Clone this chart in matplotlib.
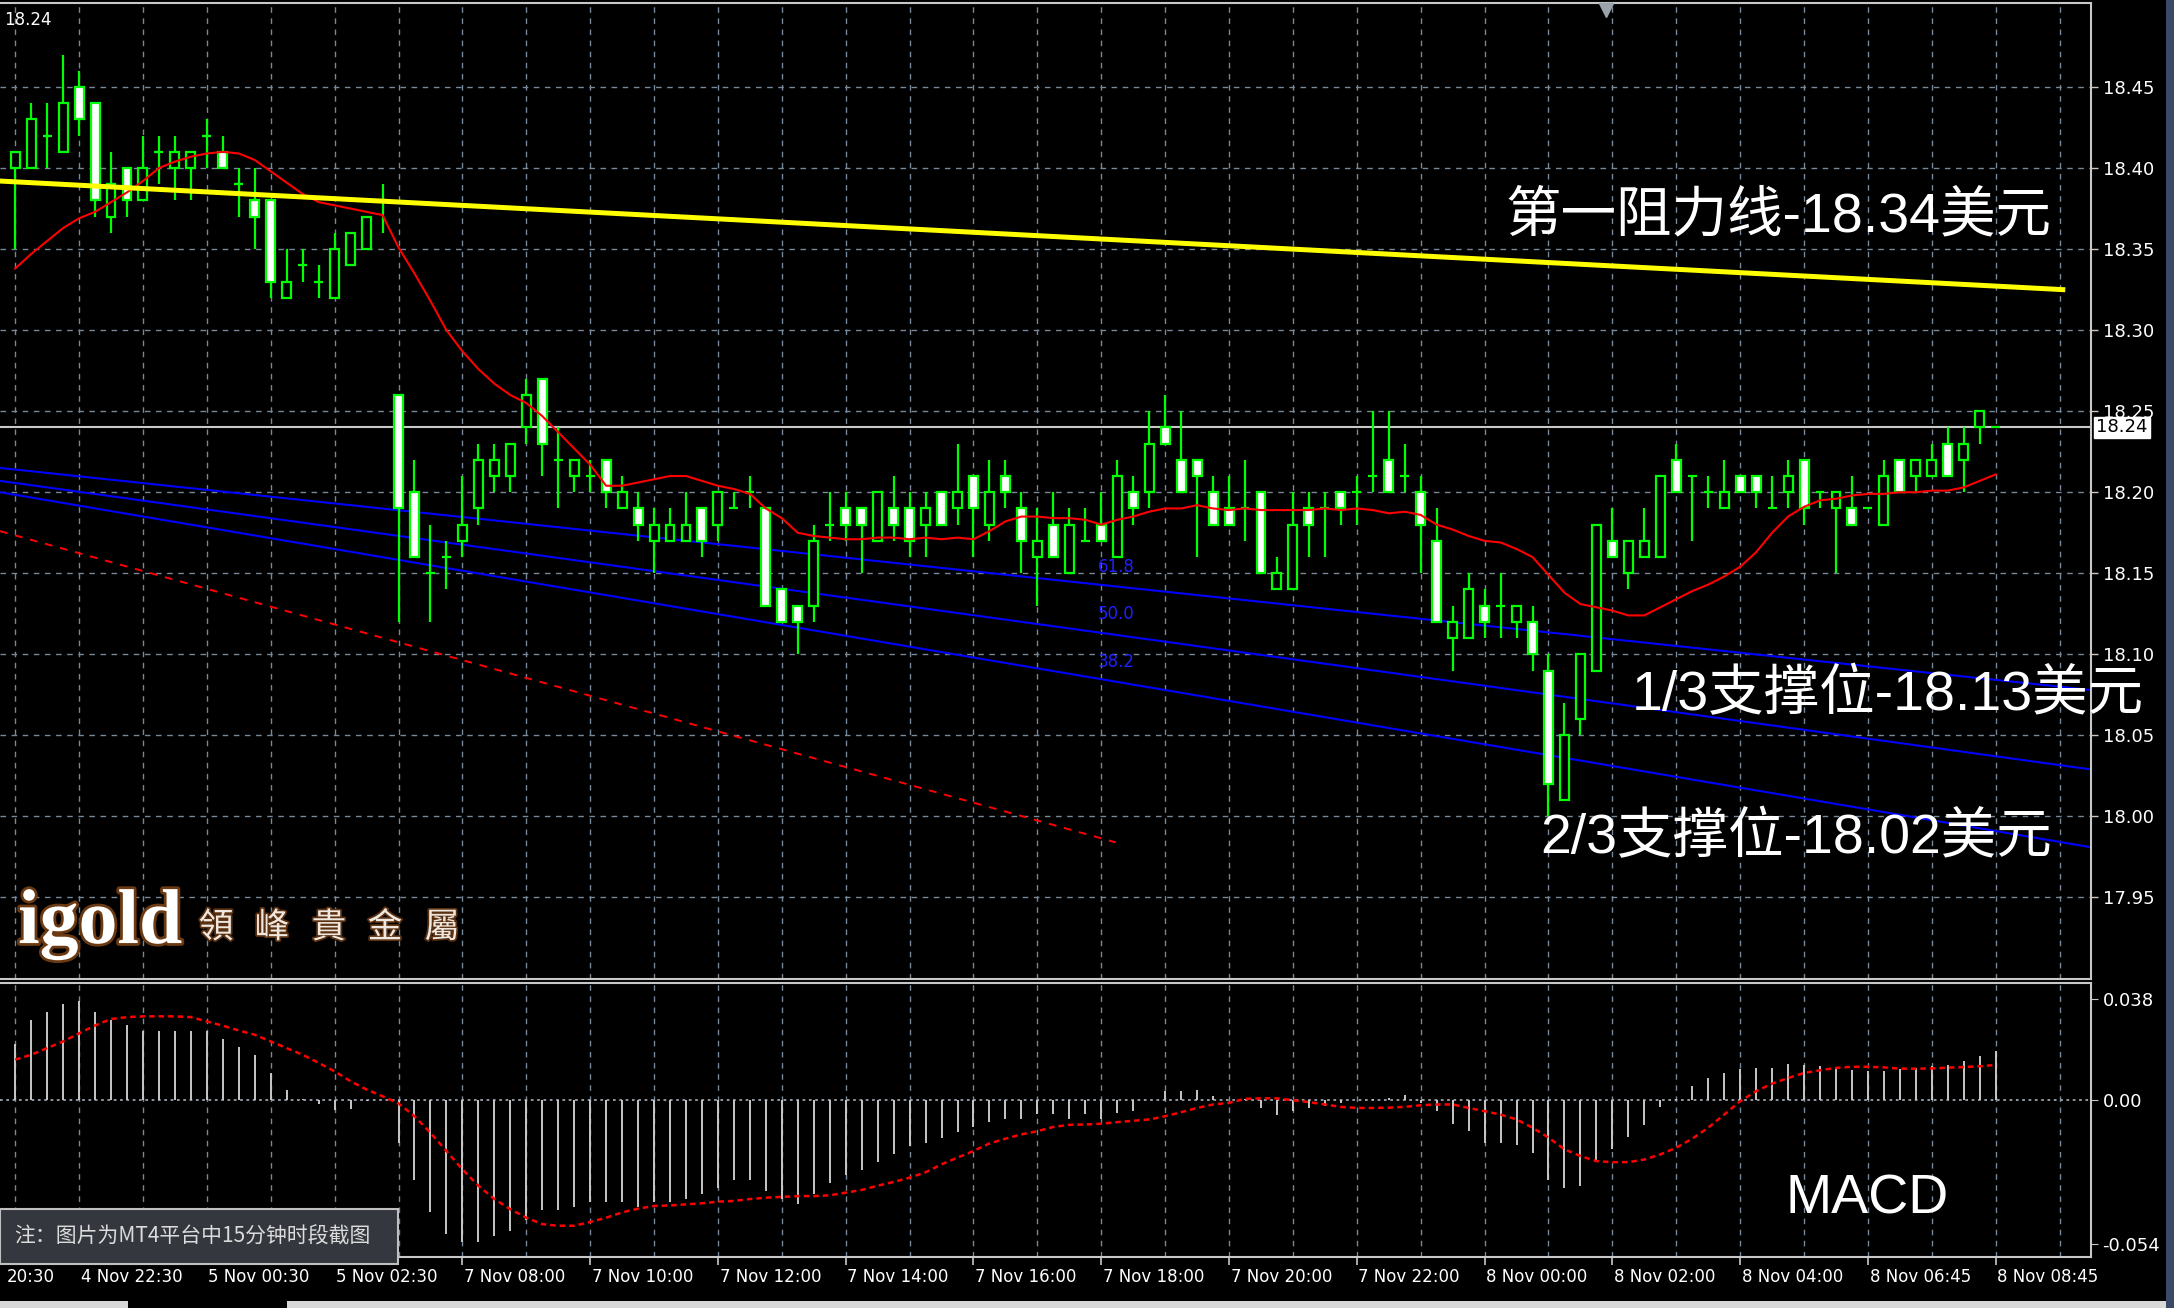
import matplotlib
matplotlib.use('Agg')
import matplotlib.pyplot as plt
import matplotlib.transforms as mtransforms
import matplotlib.patheffects as pe
from matplotlib.patches import Rectangle
import numpy as np

# ===== 15-min candles (index 0 = first visible bar) =====
opens = [18.40, 18.40, 18.42, 18.41, 18.45, 18.44, 18.37, 18.40, 18.38, 18.41,
         18.40, 18.40, 18.42, 18.41, 18.39, 18.38, 18.38, 18.32, 18.34, 18.33,
         18.32, 18.34, 18.35, 18.38, 18.26, 18.20, 18.15, 18.16, 18.17, 18.19,
         18.21, 18.21, 18.24, 18.27, 18.22, 18.21, 18.21, 18.22, 18.19, 18.19,
         18.17, 18.17, 18.17, 18.19, 18.18, 18.19, 18.20, 18.19, 18.14, 18.13,
         18.13, 18.18, 18.19, 18.19, 18.17, 18.19, 18.19, 18.18, 18.20, 18.19,
         18.21, 18.18, 18.21, 18.19, 18.16, 18.18, 18.15, 18.17, 18.18, 18.16,
         18.20, 18.20, 18.24, 18.22, 18.22, 18.20, 18.19, 18.19, 18.20, 18.14,
         18.14, 18.19, 18.19, 18.20, 18.20, 18.21, 18.22, 18.21, 18.20, 18.17,
         18.11, 18.11, 18.13, 18.13, 18.12, 18.12, 18.09, 18.01, 18.06, 18.09,
         18.17, 18.15, 18.16, 18.16, 18.22, 18.21, 18.20, 18.19, 18.21, 18.21,
         18.19, 18.20, 18.22, 18.20, 18.19, 18.19, 18.19, 18.18, 18.22, 18.21,
         18.21, 18.23, 18.22, 18.24, 18.24]
highs = [18.41, 18.44, 18.44, 18.47, 18.46, 18.44, 18.41, 18.40, 18.42, 18.42,
         18.42, 18.41, 18.43, 18.42, 18.40, 18.40, 18.38, 18.35, 18.35, 18.34,
         18.36, 18.36, 18.37, 18.39, 18.26, 18.22, 18.18, 18.17, 18.21, 18.23,
         18.23, 18.23, 18.27, 18.27, 18.24, 18.22, 18.22, 18.22, 18.21, 18.20,
         18.19, 18.19, 18.20, 18.19, 18.20, 18.20, 18.21, 18.19, 18.14, 18.13,
         18.18, 18.20, 18.20, 18.19, 18.20, 18.21, 18.20, 18.20, 18.20, 18.23,
         18.21, 18.22, 18.22, 18.20, 18.19, 18.20, 18.19, 18.19, 18.20, 18.22,
         18.21, 18.25, 18.26, 18.25, 18.22, 18.21, 18.21, 18.22, 18.20, 18.16,
         18.20, 18.20, 18.20, 18.20, 18.21, 18.25, 18.25, 18.23, 18.21, 18.19,
         18.13, 18.15, 18.14, 18.15, 18.13, 18.13, 18.10, 18.07, 18.10, 18.18,
         18.19, 18.17, 18.19, 18.21, 18.23, 18.21, 18.21, 18.22, 18.21, 18.21,
         18.21, 18.22, 18.22, 18.20, 18.20, 18.21, 18.19, 18.22, 18.22, 18.22,
         18.23, 18.24, 18.24, 18.25, 18.24]
lows = [18.35, 18.40, 18.40, 18.41, 18.42, 18.37, 18.36, 18.37, 18.38, 18.39,
        18.38, 18.38, 18.40, 18.40, 18.37, 18.35, 18.32, 18.32, 18.33, 18.32,
        18.32, 18.34, 18.35, 18.36, 18.12, 18.16, 18.12, 18.14, 18.16, 18.18,
        18.20, 18.20, 18.23, 18.21, 18.19, 18.20, 18.20, 18.19, 18.19, 18.17,
        18.15, 18.17, 18.17, 18.16, 18.17, 18.19, 18.19, 18.13, 18.12, 18.10,
        18.12, 18.17, 18.17, 18.15, 18.17, 18.17, 18.16, 18.16, 18.18, 18.18,
        18.16, 18.17, 18.19, 18.15, 18.13, 18.16, 18.15, 18.17, 18.17, 18.16,
        18.18, 18.19, 18.23, 18.20, 18.16, 18.18, 18.18, 18.17, 18.15, 18.14,
        18.14, 18.16, 18.16, 18.18, 18.18, 18.20, 18.20, 18.20, 18.15, 18.12,
        18.09, 18.11, 18.11, 18.11, 18.11, 18.09, 18.00, 18.01, 18.05, 18.09,
        18.16, 18.14, 18.16, 18.16, 18.20, 18.17, 18.19, 18.19, 18.20, 18.19,
        18.19, 18.19, 18.18, 18.19, 18.15, 18.18, 18.19, 18.18, 18.20, 18.20,
        18.21, 18.21, 18.20, 18.23, 18.24]
closes = [18.41, 18.43, 18.42, 18.44, 18.43, 18.38, 18.39, 18.38, 18.40, 18.41,
          18.41, 18.41, 18.42, 18.40, 18.39, 18.37, 18.33, 18.33, 18.34, 18.33,
          18.35, 18.36, 18.37, 18.38, 18.19, 18.16, 18.15, 18.16, 18.18, 18.22,
          18.22, 18.23, 18.26, 18.23, 18.22, 18.22, 18.21, 18.20, 18.20, 18.18,
          18.18, 18.18, 18.18, 18.17, 18.20, 18.19, 18.20, 18.13, 18.12, 18.12,
          18.17, 18.18, 18.18, 18.18, 18.20, 18.18, 18.17, 18.19, 18.18, 18.20,
          18.19, 18.20, 18.20, 18.17, 18.17, 18.16, 18.18, 18.17, 18.17, 18.21,
          18.19, 18.23, 18.23, 18.20, 18.21, 18.18, 18.18, 18.19, 18.15, 18.15,
          18.18, 18.18, 18.19, 18.19, 18.20, 18.21, 18.20, 18.21, 18.18, 18.12,
          18.12, 18.14, 18.12, 18.13, 18.13, 18.10, 18.02, 18.05, 18.10, 18.18,
          18.16, 18.17, 18.17, 18.21, 18.20, 18.21, 18.20, 18.20, 18.20, 18.20,
          18.19, 18.21, 18.19, 18.20, 18.20, 18.18, 18.19, 18.21, 18.20, 18.22,
          18.22, 18.21, 18.23, 18.25, 18.24]

# red moving average
ma_line = [18.338, 18.347, 18.355, 18.363, 18.369, 18.373, 18.379, 18.385, 18.392, 18.400,
           18.404, 18.407, 18.409, 18.410, 18.409, 18.405, 18.398, 18.391, 18.384, 18.379,
           18.377, 18.375, 18.373, 18.371, 18.351, 18.335, 18.318, 18.300, 18.287, 18.276,
           18.267, 18.260, 18.255, 18.247, 18.237, 18.227, 18.217, 18.204, 18.204, 18.206,
           18.208, 18.210, 18.210, 18.207, 18.204, 18.202, 18.199, 18.190, 18.184, 18.175,
           18.173, 18.172, 18.171, 18.171, 18.172, 18.172, 18.171, 18.172, 18.171, 18.172,
           18.171, 18.176, 18.182, 18.185, 18.185, 18.184, 18.184, 18.183, 18.180, 18.183,
           18.185, 18.188, 18.190, 18.190, 18.192, 18.190, 18.189, 18.190, 18.189, 18.189,
           18.189, 18.189, 18.190, 18.189, 18.190, 18.189, 18.187, 18.188, 18.186, 18.180,
           18.177, 18.173, 18.170, 18.169, 18.165, 18.160, 18.149, 18.138, 18.131, 18.129,
           18.127, 18.124, 18.124, 18.129, 18.134, 18.139, 18.143, 18.148, 18.154, 18.163,
           18.175, 18.185, 18.191, 18.195, 18.196, 18.198, 18.199, 18.199, 18.200, 18.200,
           18.201, 18.201, 18.203, 18.207, 18.211]

# MACD histogram and signal (x 0.001)
macd_hist = [21, 30, 33, 36, 37, 33, 30, 28, 26, 26,
             26, 26, 26, 23, 20, 17, 10, 4, 0.3, -1.6,
             -3.5, -3.2, -0.4, 0, -16, -30, -42, -50, -53, -53,
             -51, -49, -45, -41, -41, -40, -38, -38, -38, -40,
             -38, -38, -37, -35, -33, -30, -30, -34, -37, -39,
             -35, -31, -28, -26, -23, -20, -17, -16, -14, -12,
             -10, -8, -7, -7, -5, -5, -7, -5, -7, -4.7,
             -4, 0, 3.4, 3.4, 4, 1.5, 0, 0.3, -2.9, -5.7,
             -4, -2.9, -2.2, -1.2, 0.2, 0.5, 0.9, 2, -1, -4,
             -9, -11.6, -16, -16, -16.8, -19.7, -30, -33, -32, -22.8,
             -18.4, -13.7, -9.3, -2.6, 0.3, 5.5, 8.3, 10, 11.5, 12,
             12, 13.7, 13, 12.7, 12, 11.2, 10.8, 10.8, 11.5, 12,
             12.7, 13.3, 14.6, 16.7, 18.3]
macd_signal = [15.2, 17, 19.5, 22, 25, 28, 30.4, 31.1, 31.4, 31.4,
               31.4, 31.1, 29.5, 27.9, 26.1, 24.5, 22, 19.5, 17, 14,
               10.8, 7.1, 4, 1.5, -1.2, -6, -12.2, -19, -25.9, -32,
               -37, -40.8, -44, -46.4, -47, -47, -45.6, -44, -42, -40.6,
               -39.6, -39.4, -39, -38.6, -38, -37.7, -37, -36.5, -36.2, -35.9,
               -35.9, -35.6, -34.6, -33.6, -32, -30.6, -29, -27, -24, -21.5,
               -19, -16.2, -14.4, -12.8, -11.6, -10, -9.2, -9.1, -8.8, -8.2,
               -7.7, -7.2, -6, -4.5, -2.9, -1.6, -1, 0.5, 0.7, 0.7,
               0, -0.7, -1.6, -2.5, -2.9, -2.9, -2.8, -2.5, -1.9, -1.6,
               -1.6, -2.9, -4.1, -5.4, -7.2, -10.3, -14, -18.4, -20.9, -22.8,
               -23.2, -23.2, -22.2, -20.3, -17.8, -14.4, -10.3, -5.4, -0.4, 3.4,
               6.2, 8.3, 10.2, 11.2, 12.1, 12.5, 12.5, 12.3, 11.8, 11.8,
               11.9, 12.2, 12.4, 12.7, 13.2]

# first label is only partly visible at the left edge ("20:30")
time_labels = ['20:30', '4 Nov 22:30', '5 Nov 00:30', '5 Nov 02:30',
               '7 Nov 08:00', '7 Nov 10:00', '7 Nov 12:00', '7 Nov 14:00',
               '7 Nov 16:00', '7 Nov 18:00', '7 Nov 20:00', '7 Nov 22:00',
               '8 Nov 00:00', '8 Nov 02:00', '8 Nov 04:00', '8 Nov 06:45',
               '8 Nov 08:45']
price_ticks = [17.95, 18.00, 18.05, 18.10, 18.15, 18.20, 18.25, 18.30, 18.35, 18.40, 18.45]
last_price = 18.24

# drawn objects: (start bar, start price, end bar, end price)
resist_line = (-0.95, 18.392, 128.2, 18.325)
fib_lines = [(-0.95, 18.215, 129.95, 18.078),
             (-0.95, 18.207, 129.95, 18.029),
             (-0.95, 18.200, 129.95, 17.981)]
fib_names = ['61.8', '50.0', '38.2']
fib_label_y = [18.154, 18.125, 18.095]
red_trend = (-0.95, 18.176, 68.9, 17.984)

GREEN = '#00ff00'
GRIDC = '#778899'
SILVER = '#c8c8c8'
CJK = ['Liberation Sans', 'Noto Sans CJK SC', 'DejaVu Sans']

fig = plt.figure(figsize=(21.74, 13.08), dpi=100, facecolor='black')
ax1 = fig.add_axes([0.0, 0.2513, 0.9617, 0.7466], facecolor='black')
ax2 = fig.add_axes([0.0, 0.0392, 0.9617, 0.2089], facecolor='black')

xlim = (-0.95, 129.95)
idx = np.arange(len(opens))
o, h, l, c = map(np.array, (opens, highs, lows, closes))

# ---- grid ----
grid_idx = np.arange(0, 129, 4)
for ax in (ax1, ax2):
    for g in grid_idx:
        ax.axvline(g, color=GRIDC, lw=1.0, ls=(0, (4, 4)), zorder=0.5)
for p in price_ticks:
    ax1.axhline(p, color=GRIDC, lw=1.0, ls=(0, (4, 4)), zorder=0.5)

# ---- objects ----
for (x0, y0, x1, y1) in fib_lines:
    ax1.plot([x0, x1], [y0, y1], color='#0000ff', lw=1.5, zorder=2)
for name, yy in zip(fib_names, fib_label_y):
    ax1.text(67.8, yy, name, color='#2020ff', fontsize=12, va='center', ha='left', zorder=2)
ax1.plot([red_trend[0], red_trend[2]], [red_trend[1], red_trend[3]],
         color='#ff0000', lw=1.4, ls=(0, (4, 4)), zorder=2)
ax1.axhline(last_price, color=SILVER, lw=1.5, zorder=1.5)

# ---- candles ----
bw = 0.56
ax1.vlines(idx, l, h, color=GREEN, lw=1.6, zorder=3)
up = c > o
dn = c < o
dj = c == o
ax1.bar(idx[up], (c - o)[up], bottom=o[up], width=bw, facecolor='black',
        edgecolor=GREEN, lw=1.6, zorder=3.5)
ax1.bar(idx[dn], (o - c)[dn], bottom=c[dn], width=bw, facecolor='white',
        edgecolor=GREEN, lw=1.6, zorder=3.5)
ax1.hlines(o[dj], idx[dj] - bw / 2, idx[dj] + bw / 2, color=GREEN, lw=1.6, zorder=3.5)

ax1.plot(idx, ma_line, color='#ff0000', lw=1.5, zorder=4)
ax1.plot([resist_line[0], resist_line[2]], [resist_line[1], resist_line[3]],
         color='#ffff00', lw=3.6, zorder=4.5)

ax1.set_xlim(*xlim)
ax1.set_ylim(17.8995, 18.502)
ax1.yaxis.tick_right()
ax1.set_yticks(price_ticks)
ax1.set_yticklabels(['%.2f' % p for p in price_ticks])
ax1.tick_params(axis='y', colors=SILVER, labelcolor='white', labelsize=13, length=5, width=1)
ax1.tick_params(axis='x', bottom=False, labelbottom=False)
for s in ('top', 'right', 'bottom'):
    ax1.spines[s].set_color(SILVER)
    ax1.spines[s].set_linewidth(1.5)
ax1.spines['left'].set_visible(False)

ax1.text(0.002, 0.992, '18.24', transform=ax1.transAxes, color='white',
         fontsize=12, va='top', ha='left')
tri = mtransforms.blended_transform_factory(ax1.transData, ax1.transAxes)
ax1.plot([99.6], [0.993], marker='v', color='#9aa2aa', markersize=10,
         transform=tri, clip_on=False, zorder=6)

# current price tag on the axis
ax1.annotate('18.24', xy=(1.0, last_price), xycoords=('axes fraction', 'data'),
             xytext=(4, 0), textcoords='offset points', va='center', ha='left',
             fontsize=13, color='black',
             bbox=dict(boxstyle='square,pad=0.1', fc='white', ec='white'),
             annotation_clip=False, zorder=10)

# ---- MACD ----
hist = np.array(macd_hist) / 1000.0
sig = np.array(macd_signal) / 1000.0
ax2.vlines(idx, 0, hist, color='#c8c8c8', lw=1.4, zorder=2)
ax2.axhline(0, color='#9aa2aa', lw=1.3, ls=(0, (1.5, 2)), zorder=1)
ax2.plot(idx, sig, color='#ff0000', lw=1.8, ls=(0, (2.2, 1.6)), zorder=3)
ax2.yaxis.tick_right()
ax2.set_yticks([0.038, 0.0, -0.054])
ax2.set_yticklabels(['0.038', '0.00', '-0.054'])
ax2.tick_params(axis='y', colors=SILVER, labelcolor='white', labelsize=13, length=5)
time_idx = np.arange(-4, 125, 8)
ax2.set_xticks(time_idx)
ax2.tick_params(axis='x', colors=SILVER, length=6, width=1.2, labelbottom=False)
ax2.set_xlim(*xlim)
ax2.set_ylim(-0.0586, 0.0437)
for s in ('top', 'right', 'bottom'):
    ax2.spines[s].set_color(SILVER)
    ax2.spines[s].set_linewidth(1.5)
ax2.spines['left'].set_visible(False)

tb = mtransforms.blended_transform_factory(ax2.transData, ax2.transAxes)
for t, lab in zip(time_idx[1:], time_labels[1:]):
    ax2.text(t + 0.1, -0.075, lab, transform=tb, color='white', fontsize=12,
             ha='left', va='center', clip_on=False)
ax2.text(0.003, -0.075, time_labels[0], transform=ax2.transAxes, color='white',
         fontsize=12, ha='left', va='center', clip_on=False)

ax2.text(0.893, 0.21, 'MACD', transform=ax2.transAxes, color='white',
         fontsize=40, family=CJK, ha='center', va='center')

# ---- annotations ----
fig.text(0.818, 0.8335, '第一阻力线-18.34美元', color='white', fontsize=40,
         family=CJK, ha='center', va='center')
fig.text(0.8683, 0.4677, '1/3支撑位-18.13美元', color='white', fontsize=40,
         family=CJK, ha='center', va='center', zorder=10)
fig.text(0.826, 0.3584, '2/3支撑位-18.02美元', color='white', fontsize=40,
         family=CJK, ha='center', va='center')

# ---- logo ----
glow = [pe.withStroke(linewidth=4, foreground='#6b3a12')]
fig.text(0.0083, 0.279, 'igold', color='white', fontsize=56, weight='bold',
         family='Liberation Serif', ha='left', va='baseline', path_effects=glow)
logo_chars = ['領', '峰', '貴', '金', '屬']
logo_x = [0.0994, 0.1251, 0.1513, 0.1771, 0.2033]
for ch, xx in zip(logo_chars, logo_x):
    fig.text(xx, 0.2905, ch, color='#efe8e0', fontsize=25, family='Noto Sans CJK TC',
             ha='center', va='center', path_effects=[pe.withStroke(linewidth=2.5, foreground='#5a3010')])

# ---- note box ----
fig.patches.append(Rectangle((0.0, 0.0336), 0.183, 0.0421, transform=fig.transFigure,
                             facecolor='#34383e', edgecolor='#c0c0c0', lw=1.5, zorder=9))
fig.text(0.0064, 0.0547, '注：图片为MT4平台中15分钟时段截图', color='#dcdcdc', fontsize=15,
         family=['Noto Sans CJK SC', 'DejaVu Sans'], ha='left', va='center', zorder=11)

# window edges
fig.patches.append(Rectangle((0.0, 0.0), 0.0587, 0.005, transform=fig.transFigure,
                             facecolor='#d8d8d8', edgecolor='none', zorder=9))
fig.patches.append(Rectangle((0.132, 0.0), 0.868, 0.005, transform=fig.transFigure,
                             facecolor='#d8d8d8', edgecolor='none', zorder=9))
fig.patches.append(Rectangle((0.9962, 0.0), 0.0038, 1.0, transform=fig.transFigure,
                             facecolor='#3a4a66', edgecolor='none', zorder=9))

fig.savefig('out.png', dpi=100, facecolor='black')
